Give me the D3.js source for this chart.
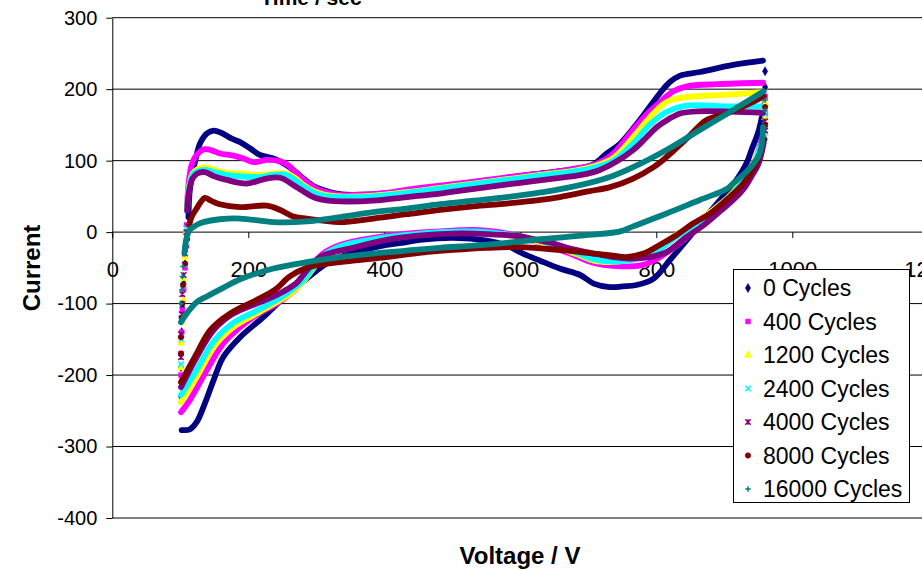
<!DOCTYPE html>
<html><head><meta charset="utf-8">
<script src="https://cdn.jsdelivr.net/npm/d3@7"></script>
<style>
html,body{margin:0;padding:0;background:#fff;}
svg{display:block;font-family:"Liberation Sans",Arial,sans-serif;}
</style></head>
<body><svg id="chart" width="922" height="570"></svg>
<script>
// ---------- data ----------
const seriesNames = ["0 Cycles","400 Cycles","1200 Cycles","2400 Cycles","4000 Cycles","8000 Cycles","16000 Cycles"];
const xTicks = [0,200,400,600,800,1000,1200];
const yTicks = [-400,-300,-200,-100,0,100,200,300];

// forward (anodic) sweeps [voltage, current]
const c0Up = [[112,21],[114,59],[119,87],[124,108],[129,124],[139,138],[149,142],[160,139],[175,131],[188,126],[203,117],[217,108],[237,103],[256,94],[270,84],[281,75],[295,65],[310,59],[335,53],[384,53],[433,57],[482,63],[531,69],[580,76],[629,82],[680,88],[708,95],[727,110],[747,124],[776,157],[805,194],[820,210],[835,219],[864,224],[913,234],[957,240]];
const c400Up = [[110,40],[113,75],[117,95],[124,108],[136,116],[147,114],[158,110],[178,107],[193,103],[207,98],[217,99],[227,101],[247,99],[258,94],[266,87],[276,78],[286,70],[298,62],[310,57],[335,52],[354,52],[384,53],[403,55],[452,62],[482,65],[551,73],[600,79],[649,84],[680,89],[708,94],[722,100],[737,110],[766,143],[786,165],[801,178],[815,190],[825,197],[845,204],[889,207],[957,209]];
const c1200Up = [[110,35],[113,65],[118,82],[125,88],[136,91],[150,87],[168,83],[188,82],[217,80],[237,82],[256,82],[270,75],[281,66],[295,58],[310,53],[335,50],[384,51],[433,56],[482,62],[531,68],[580,74],[629,80],[680,86],[708,92],[737,104],[766,133],[790,160],[815,182],[845,189],[900,192],[957,196]];
const c2400Up = [[110,32],[113,62],[118,80],[125,85],[136,87],[150,84],[168,80],[188,78],[217,77],[237,80],[256,80],[270,72],[281,64],[295,56],[310,51],[335,49],[384,50],[433,55],[482,61],[531,67],[580,73],[629,79],[680,85],[708,90],[737,100],[766,124],[790,150],[815,168],[845,177],[900,176],[957,176]];
const c4000Up = [[110,30],[113,58],[118,75],[125,82],[136,84],[150,78],[168,73],[198,68],[227,75],[247,76],[266,66],[276,60],[286,54],[298,48],[310,45],[335,43],[384,44],[433,49],[482,54],[551,63],[600,69],[649,75],[690,80],[717,87],[740,98],[766,115],[785,132],[801,147],[818,158],[835,166],[860,169],[957,167]];
const c8000Up = [[113,10],[117,22],[124,33],[130,42],[136,48],[145,44],[158,39],[188,35],[227,37],[247,31],[266,22],[286,19],[310,16],[335,14],[384,19],[433,25],[482,31],[531,36],[580,40],[630,45],[658,49],[700,57],[732,63],[766,75],[796,91],[815,105],[845,131],[874,157],[904,166],[933,178],[958,190]];
const c16000Up = [[106,-30],[109,-9],[113,2],[119,7],[126,11],[134,14],[158,18],[188,19],[237,14],[286,15],[335,21],[384,28],[433,33],[482,39],[531,44],[580,49],[653,59],[725,75],[766,91],[815,115],[864,143],[913,171],[958,197]];

// reverse (cathodic) sweeps [voltage, current]
const c0Down = [[955,160],[950,140],[940,115],[933,97],[918,73],[894,45],[869,17],[845,-11],[820,-39],[796,-65],[771,-74],[750,-76],[732,-77],[708,-72],[688,-60],[658,-51],[629,-40],[604,-30],[580,-19],[551,-12],[502,-8],[452,-11],[433,-14],[403,-18],[359,-28],[320,-41],[286,-65],[256,-88],[222,-119],[188,-147],[163,-175],[149,-207],[136,-240],[124,-266],[114,-276],[102,-277]];
const c400Down = [[955,130],[945,100],[925,68],[900,40],[875,17],[850,-3],[825,-22],[800,-38],[780,-46],[750,-48],[722,-46],[698,-40],[673,-30],[649,-22],[625,-14],[600,-8],[580,-2],[531,3],[482,1],[433,-2],[384,-8],[335,-18],[310,-30],[296,-45],[283,-62],[271,-79],[242,-100],[212,-116],[188,-133],[163,-156],[139,-193],[114,-235],[101,-252]];
const c1200Down = [[955,125],[945,100],[928,75],[913,56],[895,40],[879,28],[854,10],[827,-5],[805,-22],[781,-34],[756,-40],[730,-42],[708,-40],[680,-30],[650,-20],[620,-12],[580,-4],[531,0],[482,-1],[433,-5],[384,-11],[335,-22],[310,-35],[295,-52],[280,-70],[265,-84],[247,-95],[212,-114],[178,-133],[149,-161],[124,-203],[101,-238]];
const c2400Down = [[955,125],[945,98],[928,72],[913,54],[895,38],[879,25],[854,7],[827,-8],[805,-24],[781,-35],[756,-40],[730,-41],[708,-38],[680,-28],[650,-18],[620,-10],[580,-3],[531,1],[482,0],[433,-4],[384,-10],[335,-20],[310,-33],[295,-50],[280,-68],[265,-80],[247,-92],[212,-110],[178,-127],[149,-153],[124,-193],[101,-228]];
const c4000Down = [[958,125],[950,95],[940,78],[928,60],[913,45],[895,30],[870,10],[840,-10],[815,-28],[790,-35],[760,-37],[737,-35],[708,-30],[673,-23],[649,-16],[624,-11],[600,-6],[575,-4],[531,-2],[501,-2],[450,-5],[403,-11],[354,-22],[305,-35],[285,-55],[270,-72],[242,-88],[212,-100],[178,-114],[149,-137],[124,-175],[101,-217]];
const c8000Down = [[955,115],[947,96],[928,68],[903,45],[879,26],[854,12],[830,-4],[805,-18],[781,-30],[756,-35],[737,-33],[708,-30],[658,-25],[600,-21],[550,-22],[501,-25],[433,-31],[403,-35],[354,-40],[310,-45],[286,-50],[261,-62],[240,-80],[212,-95],[173,-114],[144,-137],[124,-170],[101,-210]];
const c16000Down = [[957,147],[952,110],[938,90],[913,68],[903,60],[864,45],[815,26],[766,8],[747,1],[700,-4],[653,-8],[629,-10],[580,-15],[531,-19],[482,-22],[433,-26],[384,-30],[335,-35],[286,-42],[237,-51],[188,-66],[163,-78],[139,-90],[124,-98],[110,-113],[101,-126]];

// sparse fast-switching points at the sweep limits
const c0Edge = [[101,-230],[101,-189],[102,-140],[103,-105],[105,-72],[107,-45],[109,-20],[111,2],[960,225],[960,203],[959,180]];
const c400Edge = [[101,-200],[101,-170],[102,-140],[103,-109],[105,-80],[107,-50],[108,-20],[109,10],[960,190],[960,165],[959,148]];
const c1200Edge = [[101,-190],[101,-155],[102,-125],[104,-95],[105,-65],[107,-35],[109,0],[960,180],[960,160],[959,142]];
const c2400Edge = [[101,-185],[102,-150],[103,-100],[104,-75],[106,-45],[108,-15],[109,5],[960,165],[960,150],[959,138]];
const c4000Edge = [[101,-175],[101,-143],[102,-115],[103,-87],[105,-60],[107,-30],[109,0],[960,155],[960,142]];
const c8000Edge = [[101,-170],[101,-147],[102,-120],[103,-100],[104,-74],[107,-44],[110,-10],[960,175],[960,150],[959,130]];
const c16000Edge = [[101,-100],[102,-81],[103,-62],[104,-48],[960,185],[960,170]];

const seriesColors = ["#000080","#FF00FF","#FFFF00","#00FFFF","#800080","#800000","#008080"];

// ---------- symbols ----------
const symX = {draw(ctx,size){const r=Math.sqrt(size)/2;ctx.moveTo(-r,-r);ctx.lineTo(r,r);ctx.moveTo(r,-r);ctx.lineTo(-r,r);}};
const symPlus = {draw(ctx,size){const r=Math.sqrt(size)/2;ctx.moveTo(-r,0);ctx.lineTo(r,0);ctx.moveTo(0,-r);ctx.lineTo(0,r);}};
const symAst = {draw(ctx,size){const r=Math.sqrt(size)/2;ctx.moveTo(-r,-r);ctx.lineTo(r,r);ctx.moveTo(r,-r);ctx.lineTo(-r,r);ctx.moveTo(0,-r);ctx.lineTo(0,r);}};
const symbolTypes = [d3.symbolDiamond,d3.symbolSquare,d3.symbolTriangle,symX,symAst,d3.symbolCircle,symPlus];
const symbolFilled = [true,true,true,false,false,true,false];

const series = seriesNames.map((n,i)=>({
  name:n, color:seriesColors[i], sym:symbolTypes[i], filled:symbolFilled[i],
  up:[c0Up,c400Up,c1200Up,c2400Up,c4000Up,c8000Up,c16000Up][i],
  down:[c0Down,c400Down,c1200Down,c2400Down,c4000Down,c8000Down,c16000Down][i],
  edge:[c0Edge,c400Edge,c1200Edge,c2400Edge,c4000Edge,c8000Edge,c16000Edge][i]
}));

// ---------- chart ----------
const svg = d3.select("#chart");
const x = d3.scaleLinear().domain([0,1200]).range([112.3, 928.3]);
const y = d3.scaleLinear().domain([-400,300]).range([518, 17.7]);
const plainFmt = d => String(d);

// gridlines
svg.append("g").selectAll("line").data(yTicks).join("line")
  .attr("x1", x(0)).attr("x2", 922)
  .attr("y1", d=>y(d)).attr("y2", d=>y(d))
  .attr("stroke","#000").attr("stroke-width",1);

// y axis
const yAxis = svg.append("g").attr("transform",`translate(${x(0)},0)`)
  .call(d3.axisLeft(y).tickValues(yTicks).tickSize(6).tickSizeOuter(0).tickPadding(9).tickFormat(plainFmt));
yAxis.select(".domain").attr("stroke","#000");
yAxis.selectAll(".tick line").attr("stroke","#000");
yAxis.selectAll("text").attr("font-size",20).attr("fill","#000").attr("font-family","Liberation Sans, Arial, sans-serif");

// x axis at zero
const xAxis = svg.append("g").attr("transform",`translate(0,${y(0)})`)
  .call(d3.axisBottom(x).tickValues(xTicks).tickSize(6).tickSizeOuter(0).tickPadding(23).tickFormat(plainFmt));
xAxis.select(".domain").remove();
xAxis.selectAll(".tick line").attr("stroke","#000");
xAxis.selectAll("text").attr("font-size",22).attr("fill","#000").attr("font-family","Liberation Sans, Arial, sans-serif");

// series
const line = d3.line().x(d=>x(d[0])).y(d=>y(d[1])).curve(d3.curveCatmullRom.alpha(0.5));
const plot = svg.append("g");
series.forEach(s=>{
  const g = plot.append("g");
  [s.down, s.up].forEach(arr=>{
    g.append("path").attr("d", line(arr)).attr("fill","none")
      .attr("stroke", s.color).attr("stroke-width",5.8).attr("stroke-linecap","round").attr("stroke-linejoin","round");
  });
  const sym = d3.symbol().type(s.sym).size(s.filled?24:30);
  g.selectAll("path.m").data(s.edge).join("path").attr("class","m")
    .attr("transform", d=>`translate(${x(d[0])},${y(d[1])})`)
    .attr("d", sym())
    .attr("fill", s.filled? s.color : "none")
    .attr("stroke", s.color).attr("stroke-width", s.filled?0.5:1.5);
});

// titles
svg.append("text").attr("x",311).attr("y",5).attr("text-anchor","middle")
  .attr("font-size",21).attr("font-weight","bold").text("Time / sec");
svg.append("text").attr("x",520).attr("y",564).attr("text-anchor","middle")
  .attr("font-size",24).attr("font-weight","bold").text("Voltage / V");
svg.append("text").attr("transform","translate(40,268) rotate(-90)").attr("text-anchor","middle")
  .attr("font-size",24).attr("font-weight","bold").text("Current");

// legend
const lg = svg.append("g");
lg.append("rect").attr("x",733.5).attr("y",269.5).attr("width",176).attr("height",233)
  .attr("fill","#fff").attr("stroke","#000").attr("stroke-width",1);
series.forEach((s,i)=>{
  const cy = 288 + i*33.5;
  lg.append("path").attr("transform",`translate(748,${cy})`)
    .attr("d", d3.symbol().type(s.sym).size(s.filled?24:30)())
    .attr("fill", s.filled? s.color:"none").attr("stroke", s.color).attr("stroke-width", s.filled?0.5:1.5);
  lg.append("text").attr("x",763).attr("y",cy).attr("dy","0.36em")
    .attr("font-size",23).attr("fill","#000").text(s.name);
});
</script></body></html>
